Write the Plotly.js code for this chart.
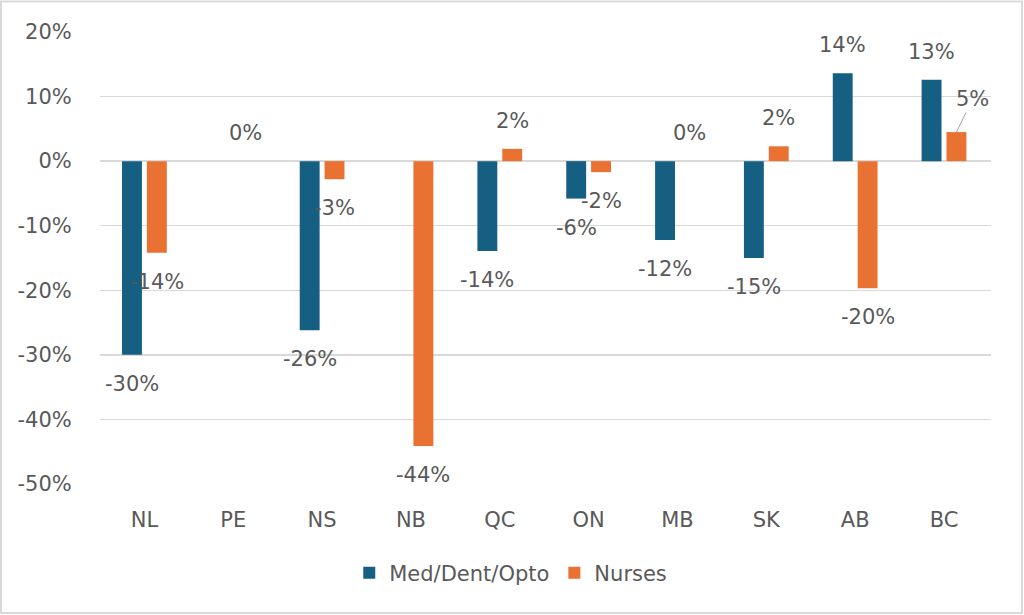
<!DOCTYPE html>
<html>
<head>
<meta charset="utf-8">
<script src="https://cdn.plot.ly/plotly-3.0.1.min.js"></script>
<style>
  html, body { margin: 0; padding: 0; background: #ffffff; }
  #chart { width: 1024px; height: 615px; }
</style>
</head>
<body>
<div id="chart"></div>
<script>
// ---- Data ----
const categories = ['NL', 'PE', 'NS', 'NB', 'QC', 'ON', 'MB', 'SK', 'AB', 'BC'];
const medDentOpto = [-0.30, null, -0.262, null, -0.139, -0.058, -0.122, -0.150, 0.136, 0.126];
const nurses = [-0.142, 0.0, -0.028, -0.441, 0.019, -0.017, 0.0, 0.023, -0.197, 0.045];
const seriesNames = ['Med/Dent/Opto', 'Nurses'];
const yTickVals = [-0.5, -0.4, -0.3, -0.2, -0.1, 0, 0.1, 0.2];
const yTickText = ['-50%', '-40%', '-30%', '-20%', '-10%', '0%', '10%', '20%'];

const colors = ['#156082', '#E97132'];
const fontFamily = 'DejaVu Sans, Open Sans, sans-serif';
const textColor = '#595959';
const fs = 21;

const traces = [medDentOpto, nurses].map((vals, i) => ({
  type: 'bar',
  name: seriesNames[i],
  x: categories,
  y: vals,
  marker: { color: colors[i], line: { width: 0 } },
  hoverinfo: 'skip'
}));

// Data labels placed beyond bar ends (like Excel "outside end")
const annotations = [];
[medDentOpto, nurses].forEach((vals, si) => {
  vals.forEach((v, ci) => {
    if (v === null) return;
    const txt = Math.round(v * 100) + '%';
    const xs = si === 0 ? -12.5 : 12.5;
    if (categories[ci] === 'BC' && si === 1) {
      annotations.push({
        x: categories[ci], y: v, xref: 'x', yref: 'y',
        text: txt, showarrow: true, arrowhead: 0, arrowwidth: 1,
        arrowcolor: '#A6A6A6', ax: 16, ay: -33, xshift: xs,
        font: { family: fontFamily, size: fs, color: textColor }
      });
      return;
    }
    annotations.push({
      x: categories[ci], y: v, xref: 'x', yref: 'y',
      text: txt, showarrow: false,
      xshift: xs, yshift: v >= 0 ? 28 : -29,
      font: { family: fontFamily, size: fs, color: textColor }
    });
  });
});

const layout = {
  width: 1024,
  height: 615,
  margin: { l: 100, r: 33, t: 32, b: 131 },
  paper_bgcolor: '#ffffff',
  plot_bgcolor: '#ffffff',
  barmode: 'group',
  bargap: 0.44,
  bargroupgap: 0.2,
  font: { family: fontFamily, size: fs, color: textColor },
  showlegend: true,
  legend: {
    orientation: 'h', x: 0.461, xanchor: 'center', y: -0.197, yanchor: 'middle',
    font: { family: fontFamily, size: fs, color: textColor },
    itemwidth: 30, traceorder: 'normal'
  },
  xaxis: {
    type: 'category',
    showgrid: false,
    showline: false,
    zeroline: false,
    ticks: 'outside', ticklen: 17, tickcolor: 'rgba(0,0,0,0)',
    tickfont: { family: fontFamily, size: fs, color: textColor },
    fixedrange: true
  },
  yaxis: {
    range: [-0.5, 0.2],
    tickvals: yTickVals,
    ticktext: yTickText,
    showgrid: true, gridcolor: '#D9D9D9', gridwidth: 1.3,
    zeroline: true, zerolinecolor: '#D9D9D9', zerolinewidth: 1.3,
    showline: false,
    ticks: 'outside', ticklen: 23, tickcolor: 'rgba(0,0,0,0)',
    tickfont: { family: fontFamily, size: fs, color: textColor },
    fixedrange: true
  },
  annotations: annotations,
  shapes: [{
    type: 'rect', xref: 'paper', yref: 'paper',
    x0: (1 - 100) / 891, x1: (1022 - 100) / 891,
    y0: (484 - 613) / 452, y1: (484 - 1.5) / 452,
    line: { color: '#D9D9D9', width: 2 }, fillcolor: 'rgba(0,0,0,0)', layer: 'below'
  }]
};

Plotly.newPlot('chart', traces, layout, { displayModeBar: false, staticPlot: true });
</script>
</body>
</html>
